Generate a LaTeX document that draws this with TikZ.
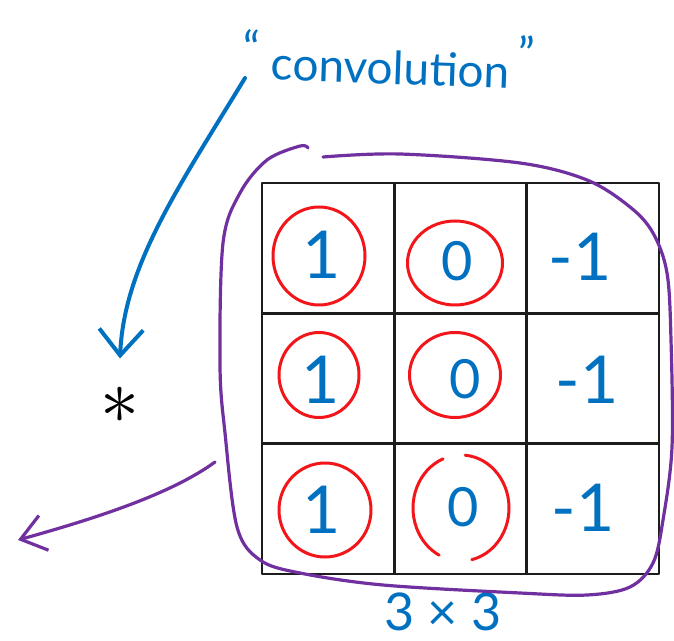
\documentclass[tikz,border=0pt]{standalone}
\usepackage{fontspec}
\setmainfont{Lato}
\usetikzlibrary{arrows.meta, positioning, shapes.geometric}
\definecolor{PenBlue}{HTML}{0070C0}
\definecolor{PenRed}{HTML}{F2161B}
\definecolor{PenPurple}{HTML}{7030A0}
\definecolor{GridInk}{HTML}{1C1C1C}

\begin{document}
\begin{tikzpicture}[
    x=0.5pt, y=-0.5pt,
    line cap=round, line join=round,
    cellbox/.style={
      draw=GridInk,
      line width=1.3pt,
      minimum width=66.17pt,
      minimum height=65.17pt,
      inner sep=0pt,
    },
    digit/.style={
      inner sep=0pt,
      text=PenBlue,
      font=\fontsize{33}{33}\selectfont,
    },
    zero/.style={
      digit,
      font=\fontsize{27}{27}\selectfont,
    },
    ring/.style={
      ellipse,
      draw=PenRed,
      line width=1.5pt,
      inner sep=0pt,
    },
    handtext/.style={
      inner sep=0pt,
      text=PenBlue,
    },
    bluepen/.style={draw=PenBlue, line width=2pt},
    purplepen/.style={draw=PenPurple, line width=1.6pt},
  ]
    \useasboundingbox (0,0) rectangle (674,641);

    % 3x3 filter grid
    \foreach \r in {1,2,3} {
      \foreach \c in {1,2,3} {
        \node[cellbox] (cell\r\c) at ({262+132.33*(\c-0.5)},{183+130.33*(\r-0.5)}) {};
      }
    }

    \node[digit] (d11) at (322,255) {1};
    \node[zero] (d12) at (457,261) {0};
    \node[digit] (d13) at (580,257) {-1};
    \node[digit] (d21) at (321,380) {1};
    \node[zero] (d22) at (465,379) {0};
    \node[digit] (d23) at (587,380) {-1};
    \node[digit] (d31) at (322,510) {1};
    \node[zero] (d32) at (463,507) {0};
    \node[digit] (d33) at (583,508) {-1};

    \node[ring, minimum width=46pt, minimum height=49pt] (ring11) at (319,256) {};
    \node[ring, minimum width=47.5pt, minimum height=42pt] (ring12) at (455,263) {};
    \node[ring, minimum width=40pt, minimum height=42.5pt] (ring21) at (319,375) {};
    \node[ring, minimum width=45.5pt, minimum height=42.5pt] (ring22) at (455,375) {};
    \node[ring, minimum width=46pt, minimum height=47pt] (ring31) at (325,510) {};
    \coordinate (ring32) at (461,508);
    \draw[draw=PenRed, line width=1.5pt]
      (ring32) ++(248:48 and 53) arc[start angle=248, end angle=117, x radius=48, y radius=53];
    \draw[draw=PenRed, line width=1.5pt]
      (ring32) ++(-85:48 and 53) arc[start angle=-85, end angle=77, x radius=48, y radius=53];

    \node[handtext, font=\fontsize{26}{26}\selectfont] (dims) at (443,612) {3 × 3};

    % purple loop round the filter
    \draw[purplepen] plot[smooth, tension=0.55] coordinates {
      (323,157) (400,154) (520,163) (587,180) (630,207) (653,233) (667,273)
      (671,340) (672,447) (663,520) (653,563) (630,587) (587,595) (520,593)
      (383,585) (300,573) (260,560) (237,527) (225,433) (220,366) (223,243)
      (240,193) (267,160) (300,146) (308,148)
    };

    \node[handtext, font=\fontsize{23}{23}\selectfont, rotate=-2, anchor=base]
      (conv) at (388,84) {\raisebox{7pt}{“}\hspace{6pt}convolution\hspace{4pt}\raisebox{9pt}{”}};
    \node[inner sep=0pt] (ast) at (120,405) {\scalebox{3.9}{$\ast$}};

    \coordinate (convtail) at (245,78);
    \draw[bluepen, -{Straight Barb[length=13pt, width=22pt]}]
      (convtail) .. controls (180,185) and (124,265) .. ([yshift=14pt]ast.north);

    \coordinate (looptail) at (215,462);
    \coordinate (arrowend) at (18,540);
    \draw[purplepen, -{Straight Barb[length=12pt, width=18pt]}]
      (looptail) .. controls (170,495) and (90,520) .. (arrowend);
  \end{tikzpicture}
\end{document}
